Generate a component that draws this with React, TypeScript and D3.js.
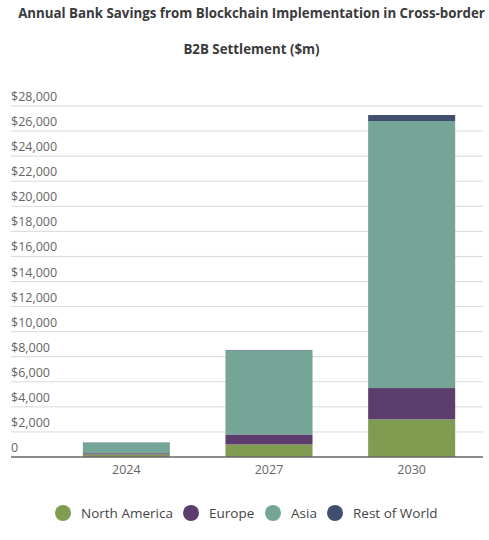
import React, { useRef, useEffect } from "react";
import * as d3 from "d3";

const width = 489;
const height = 540;

const years = ["2024", "2027", "2030"];
const regions = ["North America", "Europe", "Asia", "Rest of World"];
const northAmerica = [200, 1000, 3000];
const europe = [100, 800, 2500];
const asia = [850, 6700, 21300];
const restOfWorld = [15, 40, 480];
const yTicks = [0, 2000, 4000, 6000, 8000, 10000, 12000, 14000, 16000, 18000, 20000, 22000, 24000, 26000, 28000];

const colors = ["#7f9c50", "#5c3d6e", "#74a596", "#414f6e"];
const font = "'Open Sans', 'Noto Sans', sans-serif";

export default function App() {
  const ref = useRef<SVGSVGElement | null>(null);

  useEffect(() => {
    const svg = d3.select(ref.current);
    svg.selectAll("*").remove();

    const rows = years.map((y, i) => ({
      year: y,
      "North America": northAmerica[i],
      Europe: europe[i],
      Asia: asia[i],
      "Rest of World": restOfWorld[i]
    }));

    const x = d3
      .scaleBand<string>()
      .domain(years)
      .range([55, 483])
      .paddingInner(0.39)
      .paddingOuter(0.195);

    const y = d3.scaleLinear().domain([0, 28000]).range([457, 106]);

    // titles
    svg
      .append("text")
      .attr("x", 251.5)
      .attr("y", 18)
      .attr("text-anchor", "middle")
      .attr("font-family", font)
      .attr("font-weight", 700)
      .attr("font-size", 13.3)
      .attr("fill", "#3a3a3a")
      .text("Annual Bank Savings from Blockchain Implementation in Cross-border");
    svg
      .append("text")
      .attr("x", 251.5)
      .attr("y", 54)
      .attr("text-anchor", "middle")
      .attr("font-family", font)
      .attr("font-weight", 700)
      .attr("font-size", 13.3)
      .attr("fill", "#3a3a3a")
      .text("B2B Settlement ($m)");

    // grid + y labels
    const grid = svg.append("g");
    grid
      .selectAll("line")
      .data(yTicks.filter((t) => t > 0))
      .enter()
      .append("line")
      .attr("x1", 11)
      .attr("x2", 483)
      .attr("y1", (d) => y(d))
      .attr("y2", (d) => y(d))
      .attr("stroke", "#d9d9d9")
      .attr("stroke-width", 1);
    grid
      .selectAll("text")
      .data(yTicks)
      .enter()
      .append("text")
      .attr("x", 11)
      .attr("y", (d) => y(d) - 5)
      .attr("font-family", font)
      .attr("font-size", 12.5)
      .attr("fill", "#666")
      .text((d) => (d === 0 ? "0" : "$" + d3.format(",")(d)));

    // stacked bars
    const series = d3.stack<any>().keys(regions)(rows);
    svg
      .append("g")
      .selectAll("g")
      .data(series)
      .enter()
      .append("g")
      .attr("fill", (_, i) => colors[i])
      .selectAll("rect")
      .data((d) => d)
      .enter()
      .append("rect")
      .attr("x", (d: any) => x(d.data.year)!)
      .attr("width", x.bandwidth())
      .attr("y", (d) => y(d[1]))
      .attr("height", (d) => y(d[0]) - y(d[1]));

    // baseline
    svg
      .append("line")
      .attr("x1", 11)
      .attr("x2", 483)
      .attr("y1", y(0))
      .attr("y2", y(0))
      .attr("stroke", "#666")
      .attr("stroke-width", 1.5);

    // x labels
    svg
      .append("g")
      .selectAll("text")
      .data(years)
      .enter()
      .append("text")
      .attr("x", (d) => x(d)! + x.bandwidth() / 2)
      .attr("y", 474)
      .attr("text-anchor", "middle")
      .attr("font-family", font)
      .attr("font-size", 12.5)
      .attr("fill", "#666")
      .text((d) => d);

    // legend
    const legendX = [63, 191, 273, 335];
    const lg = svg
      .append("g")
      .selectAll("g")
      .data(regions)
      .enter()
      .append("g")
      .attr("transform", (_, i) => `translate(${legendX[i]},513)`);
    lg.append("circle").attr("r", 8).attr("fill", (_, i) => colors[i]);
    lg.append("text")
      .attr("x", 18)
      .attr("y", 5)
      .attr("font-family", font)
      .attr("font-size", 13.5)
      .attr("fill", "#444")
      .text((d) => d);
  }, []);

  return (
    <div style={{ position: "absolute", left: 0, top: 0 }}>
      <svg ref={ref} width={width} height={height} style={{ background: "#fff" }} />
    </div>
  );
}
